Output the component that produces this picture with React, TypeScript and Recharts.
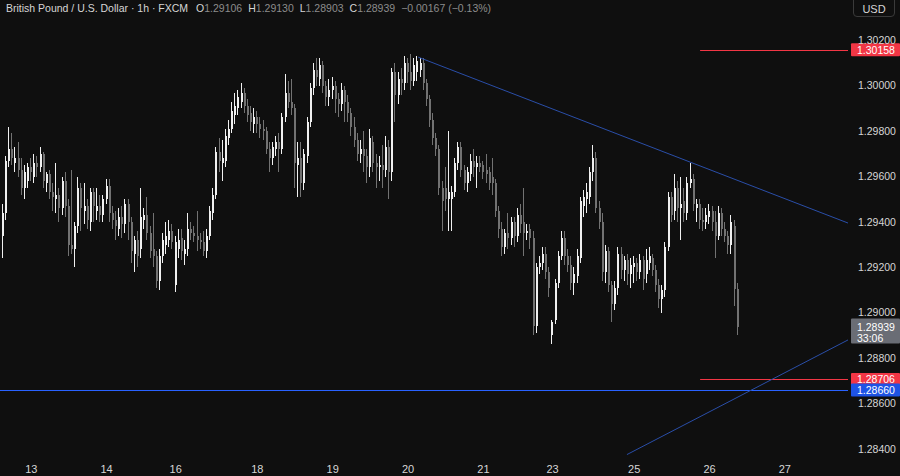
import React from 'react';
import { ComposedChart, Bar, XAxis, YAxis, ReferenceLine } from 'recharts';

// ---- OHLC data (GBP/USD 1h, FXCM) ----
const OPEN = [
  1.2934,1.2944,1.2967,1.2972,1.2966,1.2968,1.2963,1.2955,1.2958,1.2964,
  1.2960,1.2966,1.2964,1.2970,1.2957,1.2961,1.2953,1.2950,1.2952,1.2946,
  1.2958,1.2947,1.2930,1.2928,1.2938,1.2955,1.2945,1.2947,1.2940,1.2953,
  1.2945,1.2947,1.2943,1.2950,1.2956,1.2944,1.2941,1.2937,1.2942,1.2939,
  1.2948,1.2940,1.2926,1.2932,1.2928,1.2941,1.2943,1.2935,1.2928,1.2925,
  1.2914,1.2925,1.2930,1.2932,1.2936,1.2912,1.2928,1.2933,1.2926,1.2928,
  1.2937,1.2935,1.2934,1.2932,1.2931,1.2927,1.2934,1.2944,1.2952,1.2971,
  1.2966,1.2967,1.2977,1.2981,1.2987,1.2990,1.2993,1.2997,1.2991,1.2988,
  1.2983,1.2986,1.2983,1.2981,1.2980,1.2972,1.2968,1.2972,1.2975,1.2972,
  1.2986,1.2997,1.2993,1.2990,1.2965,1.2968,1.2957,1.2969,1.2984,1.2999,
  1.3007,1.3003,1.3009,1.3000,1.2995,1.2998,1.3000,1.2994,1.2992,1.2998,
  1.2993,1.2988,1.2982,1.2976,1.2970,1.2972,1.2969,1.2964,1.2975,1.2966,
  1.2964,1.2965,1.2963,1.2973,1.2962,1.3006,1.2996,1.3003,1.3001,1.3010,
  1.3006,1.3002,1.3006,1.3007,1.3010,1.3001,1.2994,1.2985,1.2977,1.2972,
  1.2955,1.2955,1.2950,1.2950,1.2953,1.2966,1.2973,1.2963,1.2957,1.2961,
  1.2967,1.2964,1.2966,1.2965,1.2963,1.2962,1.2960,1.2957,1.2945,1.2937,
  1.2929,1.2935,1.2933,1.2940,1.2934,1.2943,1.2940,1.2935,1.2937,1.2933,
  1.2894,1.2920,1.2922,1.2926,1.2918,1.2890,1.2897,1.2913,1.2925,1.2933,
  1.2925,1.2921,1.2913,1.2916,1.2924,1.2947,1.2950,1.2951,1.2962,1.2968,
  1.2946,1.2940,1.2918,1.2927,1.2912,1.2904,1.2911,1.2926,1.2919,1.2923,
  1.2917,1.2920,1.2922,1.2918,1.2923,1.2917,1.2922,1.2924,1.2919,1.2912,
  1.2906,1.2910,1.2929,1.2951,1.2945,1.2955,1.2946,1.2949,1.2944,1.2957,
  1.2959,1.2946,1.2948,1.2941,1.2940,1.2942,1.2945,1.2940,1.2934,1.2944,
  1.2937,1.2934,1.2930,1.2938,1.29106,
];
const HIGH = [
  1.2948,1.2969,1.2982,1.2979,1.2973,1.2975,1.2968,1.2965,1.2966,1.2968,
  1.2970,1.2969,1.2973,1.2971,1.2962,1.2963,1.2957,1.2966,1.2955,1.2960,
  1.2962,1.2950,1.2963,1.2940,1.2960,1.2957,1.2957,1.2950,1.2955,1.2955,
  1.2955,1.2952,1.2952,1.2959,1.2959,1.2947,1.2945,1.2946,1.2947,1.2950,
  1.2950,1.2942,1.2934,1.2936,1.2955,1.2946,1.2951,1.2938,1.2944,1.2927,
  1.2928,1.2935,1.2940,1.2941,1.2939,1.2934,1.2937,1.2937,1.2932,1.2944,
  1.2940,1.2938,1.2945,1.2935,1.2936,1.2937,1.2947,1.2955,1.2973,1.2977,
  1.2976,1.2981,1.2985,1.2993,1.2997,1.2998,1.3001,1.2999,1.2994,1.2991,
  1.2990,1.2989,1.2986,1.2985,1.2982,1.2975,1.2975,1.2978,1.2979,1.2988,
  1.3005,1.3002,1.3003,1.2992,1.2975,1.2975,1.2972,1.2986,1.3001,1.3010,
  1.3012,1.3012,1.3011,1.3002,1.3003,1.3004,1.3002,1.2997,1.3001,1.3000,
  1.2996,1.2990,1.2986,1.2979,1.2976,1.2980,1.2972,1.2981,1.2978,1.2970,
  1.2969,1.2974,1.2978,1.2976,1.3008,1.3010,1.3006,1.3008,1.3013,1.3012,
  1.3014,1.3012,1.3013,1.3012,1.3012,1.3003,1.2996,1.2988,1.2979,1.2974,
  1.2958,1.2964,1.2980,1.2956,1.2968,1.2975,1.2975,1.2965,1.2964,1.2970,
  1.2972,1.2969,1.2969,1.2967,1.2970,1.2964,1.2968,1.2959,1.2947,1.2940,
  1.2937,1.2944,1.2942,1.2942,1.2946,1.2948,1.2955,1.2939,1.2939,1.2936,
  1.2922,1.2925,1.2929,1.2929,1.2920,1.2897,1.2915,1.2927,1.2936,1.2936,
  1.2928,1.2925,1.2920,1.2928,1.2951,1.2954,1.2957,1.2964,1.2974,1.2971,
  1.2949,1.2944,1.2930,1.2929,1.2914,1.2914,1.2929,1.2929,1.2925,1.2926,
  1.2924,1.2925,1.2924,1.2926,1.2925,1.2928,1.2929,1.2926,1.2921,1.2915,
  1.2912,1.2931,1.2953,1.2953,1.2961,1.2958,1.2960,1.2955,1.2960,1.2966,
  1.2961,1.2950,1.2950,1.2946,1.2946,1.2948,1.2947,1.2945,1.2947,1.2946,
  1.2940,1.2936,1.2943,1.2941,1.29130,
];
const LOW = [
  1.2924,1.2941,1.2964,1.2965,1.2962,1.2960,1.2952,1.2950,1.2955,1.2958,
  1.2957,1.2960,1.2962,1.2955,1.2953,1.2950,1.2945,1.2944,1.2940,1.2943,
  1.2942,1.2925,1.2926,1.2920,1.2935,1.2936,1.2939,1.2937,1.2936,1.2940,
  1.2941,1.2940,1.2940,1.2948,1.2940,1.2937,1.2932,1.2934,1.2933,1.2935,
  1.2932,1.2922,1.2918,1.2920,1.2924,1.2937,1.2932,1.2924,1.2920,1.2911,
  1.2910,1.2922,1.2926,1.2929,1.2928,1.2909,1.2924,1.2923,1.2921,1.2925,
  1.2932,1.2931,1.2927,1.2928,1.2925,1.2924,1.2932,1.2941,1.2950,1.2962,
  1.2958,1.2964,1.2974,1.2979,1.2983,1.2987,1.2990,1.2988,1.2984,1.2980,
  1.2979,1.2979,1.2977,1.2976,1.2970,1.2962,1.2965,1.2969,1.2962,1.2970,
  1.2984,1.2990,1.2987,1.2955,1.2951,1.2951,1.2954,1.2966,1.2982,1.2996,
  1.3000,1.3000,1.2997,1.2991,1.2991,1.2994,1.2988,1.2986,1.2989,1.2984,
  1.2984,1.2978,1.2973,1.2967,1.2966,1.2962,1.2957,1.2960,1.2962,1.2955,
  1.2958,1.2955,1.2960,1.2950,1.2958,1.2984,1.2992,1.2996,1.2998,1.3001,
  1.2998,1.3000,1.3002,1.3004,1.2998,1.2991,1.2982,1.2974,1.2969,1.2952,
  1.2936,1.2945,1.2936,1.2936,1.2951,1.2963,1.2960,1.2954,1.2953,1.2958,
  1.2960,1.2955,1.2962,1.2959,1.2957,1.2954,1.2952,1.2942,1.2933,1.2925,
  1.2926,1.2928,1.2930,1.2929,1.2931,1.2935,1.2925,1.2932,1.2928,1.2890,
  1.2891,1.2917,1.2919,1.2915,1.2907,1.2886,1.2895,1.2911,1.2923,1.2921,
  1.2918,1.2910,1.2908,1.2913,1.2922,1.2942,1.2944,1.2948,1.2958,1.2944,
  1.2937,1.2914,1.2913,1.2909,1.2896,1.2901,1.2908,1.2915,1.2914,1.2912,
  1.2911,1.2913,1.2914,1.2915,1.2910,1.2913,1.2919,1.2916,1.2909,1.2902,
  1.2900,1.2907,1.2927,1.2940,1.2941,1.2940,1.2932,1.2940,1.2941,1.2955,
  1.2945,1.2940,1.2937,1.2936,1.2937,1.2939,1.2936,1.2924,1.2932,1.2934,
  1.2931,1.2926,1.2926,1.2903,1.28903,
];
const CLOSE = [
  1.2944,1.2967,1.2972,1.2968,1.2968,1.2963,1.2955,1.2962,1.2964,1.2962,
  1.2966,1.2964,1.2970,1.2958,1.2961,1.2953,1.2951,1.2952,1.2946,1.2958,
  1.2947,1.2930,1.2928,1.2938,1.2955,1.2946,1.2947,1.2941,1.2953,1.2947,
  1.2947,1.2943,1.2950,1.2956,1.2944,1.2941,1.2938,1.2942,1.2939,1.2948,
  1.2940,1.2927,1.2932,1.2925,1.2942,1.2943,1.2935,1.2927,1.2925,1.2914,
  1.2925,1.2932,1.2934,1.2936,1.2931,1.2931,1.2932,1.2927,1.2928,1.2937,
  1.2935,1.2934,1.2932,1.2931,1.2927,1.2934,1.2945,1.2952,1.2971,1.2967,
  1.2968,1.2978,1.2981,1.2989,1.2991,1.2995,1.2997,1.2991,1.2987,1.2984,
  1.2986,1.2983,1.2981,1.2980,1.2972,1.2968,1.2973,1.2975,1.2972,1.2986,
  1.2997,1.2993,1.2990,1.2966,1.2968,1.2957,1.2970,1.2984,1.2999,1.3007,
  1.3004,1.3009,1.3000,1.2995,1.2998,1.3000,1.2994,1.2992,1.2998,1.2993,
  1.2988,1.2982,1.2976,1.2970,1.2972,1.2969,1.2964,1.2977,1.2966,1.2964,
  1.2965,1.2963,1.2973,1.2962,1.3006,1.2996,1.3003,1.3001,1.3010,1.3006,
  1.3002,1.3009,1.3011,1.3010,1.3001,1.2994,1.2985,1.2977,1.2972,1.2955,
  1.2949,1.2950,1.2953,1.2953,1.2966,1.2973,1.2963,1.2957,1.2962,1.2967,
  1.2964,1.2966,1.2964,1.2962,1.2961,1.2957,1.2957,1.2945,1.2937,1.2929,
  1.2935,1.2933,1.2940,1.2934,1.2943,1.2939,1.2935,1.2936,1.2933,1.2894,
  1.2920,1.2922,1.2926,1.2918,1.2911,1.2896,1.2913,1.2925,1.2933,1.2925,
  1.2921,1.2913,1.2917,1.2925,1.2949,1.2951,1.2953,1.2962,1.2968,1.2946,
  1.2940,1.2918,1.2927,1.2912,1.2904,1.2911,1.2926,1.2919,1.2923,1.2917,
  1.2921,1.2922,1.2918,1.2923,1.2915,1.2923,1.2925,1.2919,1.2912,1.2906,
  1.2910,1.2929,1.2951,1.2943,1.2955,1.2946,1.2948,1.2944,1.2957,1.2959,
  1.2948,1.2948,1.2941,1.2940,1.2943,1.2945,1.2940,1.2934,1.2944,1.2937,
  1.2934,1.2930,1.2940,1.29106,1.28939,
];

// x-axis day ticks (bar index of each day's first candle)
const DAY_TICKS = [9, 33, 55, 81, 105, 129, 153, 175, 201, 225, 249];
const DAY_LABELS = ['13', '14', '16', '18', '19', '20', '21', '23', '25', '26', '27'];
const PRICE_TICKS = [1.284, 1.286, 1.288, 1.29, 1.292, 1.294, 1.296, 1.298, 1.3, 1.302];

// drawn levels / trendlines (bar index, price)
const RESISTANCE = 1.30158;
const SUPPORT_RED = 1.28706;
const SUPPORT_BLUE = 1.2866;
const LEVEL_START = 222;
const DOWN_TREND = [{ x: 132.2, y: 1.30126 }, { x: 269.1, y: 1.29395 }];
const UP_TREND = [{ x: 198.7, y: 1.28375 }, { x: 269.1, y: 1.2888 }];
const COUNTDOWN = '33:06';

const X_DOMAIN: [number, number] = [-0.955, 269.1];
const Y_DOMAIN: [number, number] = [1.283732, 1.303775];

const BG = '#0f0f0f';
const UP = '#f0f0f0';
const DOWN = '#727272';
const TEXT = '#d6d6d6';
const RED = '#f23645';
const BLUE = '#2962ff';
const TREND = '#2a4ea8';
const FONT = '"Liberation Sans", Arial, sans-serif';

const data = OPEN.map((o, i) => ({
  i,
  o,
  h: HIGH[i],
  l: LOW[i],
  c: CLOSE[i],
  range: [LOW[i], HIGH[i]],
}));

const last = data.length - 1;
const chg = CLOSE[last] - CLOSE[last - 1];
const chgPct = (chg / CLOSE[last - 1]) * 100;
const fmtSigned = (v: number, d: number) => (v < 0 ? '\u2212' : '+') + Math.abs(v).toFixed(d);

const Candle = (props: any) => {
  const { x, y, width, height, payload } = props;
  if (x == null || y == null || !payload) return null;
  const { o, h, l, c } = payload;
  const cx = Math.round(x + width / 2);
  const py = (p: number) => (h === l ? y : y + ((h - p) / (h - l)) * height);
  const color = c >= o ? UP : DOWN;
  const top = py(Math.max(o, c));
  const bot = py(Math.min(o, c));
  return (
    <g shapeRendering="crispEdges">
      <rect x={cx - 1} y={y} width={1} height={Math.max(height, 1)} fill={color} />
      <rect x={cx - 1} y={top} width={2} height={Math.max(bot - top, 1)} fill={color} />
    </g>
  );
};

// crisp 1px horizontal level line
const crispLine = (color: string) => (p: any) => {
  if (p == null || p.x1 == null) return null;
  const yy = Math.round(p.y1) + 0.5;
  return <line x1={p.x1} y1={yy} x2={p.x2} y2={yy} stroke={color} strokeWidth={1} />;
};

const makeTag = (fill: string, text: string, sub?: string) => (p: any) => {
  const vb = p.viewBox || {};
  const x0 = (vb.x || 0) + (vb.width || 0) + 3;
  const yc = vb.y || 0;
  const h = sub ? 25 : 13;
  const top = sub ? yc - 8 : yc - 6.5;
  return (
    <g>
      <rect x={x0} y={top} width={49} height={h} fill={fill} rx={1} />
      <text x={x0 + 6} y={yc + 4} fill="#ffffff" fontSize={10.5} fontFamily={FONT}>
        {text}
      </text>
      {sub ? (
        <text x={x0 + 6} y={yc + 15} fill="#ffffff" fontSize={10.5} fontFamily={FONT}>
          {sub}
        </text>
      ) : null}
    </g>
  );
};

const dayLabel = (v: number) => {
  const k = DAY_TICKS.indexOf(v);
  return k >= 0 ? DAY_LABELS[k] : '';
};

export default function App() {
  return (
    <div style={{ position: 'absolute', left: 0, top: 0, width: 900, height: 476, background: BG, overflow: 'hidden' }}>
      <ComposedChart width={900} height={476} data={data} margin={{ top: 0, right: 0, bottom: 0, left: 0 }}>
        <XAxis
          dataKey="i"
          type="number"
          domain={X_DOMAIN}
          allowDataOverflow
          ticks={DAY_TICKS}
          interval={0}
          tickFormatter={dayLabel}
          axisLine={false}
          tickLine={false}
          height={21}
          tickMargin={4}
          tick={{ fill: TEXT, fontSize: 11, fontFamily: FONT }}
        />
        <YAxis
          orientation="right"
          type="number"
          domain={Y_DOMAIN}
          allowDataOverflow
          ticks={PRICE_TICKS}
          interval={0}
          tickFormatter={(v: number) => v.toFixed(5)}
          axisLine={false}
          tickLine={false}
          width={52}
          tickMargin={4}
          tick={{ fill: TEXT, fontSize: 10.5, fontFamily: FONT, textAnchor: 'start' }}
        />
        <Bar dataKey="range" shape={<Candle />} barSize={3} isAnimationActive={false} />
        <ReferenceLine y={SUPPORT_BLUE} stroke={BLUE} strokeWidth={1} shape={crispLine(BLUE)} />
        <ReferenceLine segment={[{ x: LEVEL_START, y: RESISTANCE }, { x: X_DOMAIN[1], y: RESISTANCE }]} stroke={RED} strokeWidth={1} shape={crispLine(RED)} />
        <ReferenceLine segment={[{ x: LEVEL_START, y: SUPPORT_RED }, { x: X_DOMAIN[1], y: SUPPORT_RED }]} stroke={RED} strokeWidth={1} shape={crispLine(RED)} />
        <ReferenceLine segment={DOWN_TREND} stroke={TREND} strokeWidth={1} />
        <ReferenceLine segment={UP_TREND} stroke={TREND} strokeWidth={1} />
        <ReferenceLine y={RESISTANCE} stroke="none" label={makeTag(RED, RESISTANCE.toFixed(5))} />
        <ReferenceLine y={CLOSE[last]} stroke="none" label={makeTag('#6a6d75', CLOSE[last].toFixed(5), COUNTDOWN)} />
        <ReferenceLine y={SUPPORT_RED} stroke="none" label={makeTag(RED, SUPPORT_RED.toFixed(5))} />
        <ReferenceLine y={SUPPORT_BLUE} stroke="none" label={makeTag('#1e53e5', SUPPORT_BLUE.toFixed(5))} />
      </ComposedChart>
      <div
        style={{
          position: 'absolute', left: 6, top: 2, fontFamily: FONT, fontSize: 10.5, lineHeight: '13px',
          color: TEXT, whiteSpace: 'nowrap',
        }}
      >
        British Pound / U.S. Dollar · 1h · FXCM
        <span style={{ marginLeft: 8 }}>O</span><span style={{ color: '#8c8c8c' }}>{OPEN[last].toFixed(5)}</span>
        <span style={{ marginLeft: 6 }}>H</span><span style={{ color: '#8c8c8c' }}>{HIGH[last].toFixed(5)}</span>
        <span style={{ marginLeft: 6 }}>L</span><span style={{ color: '#8c8c8c' }}>{LOW[last].toFixed(5)}</span>
        <span style={{ marginLeft: 6 }}>C</span><span style={{ color: '#8c8c8c' }}>{CLOSE[last].toFixed(5)}</span>
        <span style={{ marginLeft: 6, color: '#8c8c8c' }}>{fmtSigned(chg, 5)} ({fmtSigned(chgPct, 2)}%)</span>
      </div>
      <div
        style={{
          position: 'absolute', left: 853, top: -1, width: 42, height: 18, border: '1px solid #3a3a3a',
          borderRadius: '0 0 4px 4px', color: TEXT, fontFamily: FONT, fontSize: 11, lineHeight: '18px',
          textAlign: 'center', boxSizing: 'border-box',
        }}
      >
        USD
      </div>
    </div>
  );
}
